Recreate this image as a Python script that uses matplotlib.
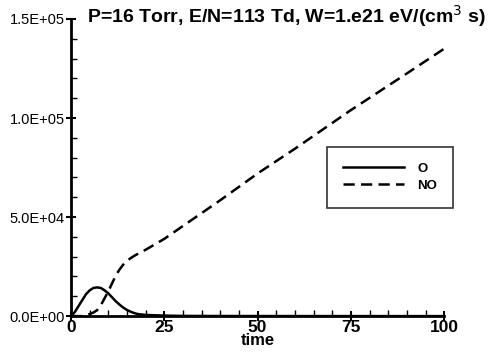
import numpy as np
import matplotlib
matplotlib.use("Agg")
import matplotlib.pyplot as plt
from matplotlib.ticker import MultipleLocator, FuncFormatter

# O density vs time
t_o = [0, 1, 2, 3, 4, 5, 6, 7, 8, 9, 10, 11, 12, 13, 14, 15, 16, 17, 18, 20, 25, 30, 40, 60, 100]
o_vals = [0, 2000, 5000, 8000, 11000, 13000, 14200, 14500, 14200, 13000, 11500, 9500,
          7500, 5800, 4300, 3100, 2200, 1500, 1000, 600, 250, 100, 50, 20, 0]

# NO density vs time
t_no = [0, 3, 4, 5, 6, 7, 8, 9, 10, 11, 12, 13, 14, 15, 17, 20, 25, 30, 35, 40, 50, 60, 75, 90, 100]
no_vals = [0, 0, 300, 1000, 1800, 3000, 5500, 9000, 12500, 16500, 20500, 23500, 26000,
           28000, 30500, 33500, 39000, 45500, 52000, 58500, 72000, 84500, 104000, 122500, 135000]

title = "P=16 Torr, E/N=113 Td, W=1.e21 eV/(cm$^3$ s)"

plt.rcParams['font.family'] = ['Liberation Sans', 'DejaVu Sans']

fig = plt.figure(figsize=(4.93, 3.58), dpi=100)
ax = fig.add_axes([0.144, 0.117, 0.757, 0.83])

ax.plot(t_o, o_vals, color='black', lw=1.8, label='O')
ax.plot(t_no, no_vals, color='black', lw=1.8, ls=(0, (4.5, 2.5)), label='NO')

ax.set_xlim(0, 100)
ax.set_ylim(0, 1.5e5)
ax.xaxis.set_major_locator(MultipleLocator(25))
ax.xaxis.set_minor_locator(MultipleLocator(5))
ax.yaxis.set_major_locator(MultipleLocator(5e4))
ax.yaxis.set_minor_locator(MultipleLocator(1e4))
ax.yaxis.set_major_formatter(FuncFormatter(lambda v, p: "%.1E" % v))

for s in ['top', 'right']:
    ax.spines[s].set_visible(False)
for s in ['left', 'bottom']:
    ax.spines[s].set_linewidth(2)

ax.tick_params(axis='both', which='major', direction='inout', length=7, width=1.5)
ax.tick_params(axis='both', which='minor', direction='in', length=4, width=1)
ax.tick_params(axis='y', labelsize=10.5, pad=1)
ax.tick_params(axis='x', labelsize=12.5, pad=-1)
for lbl in ax.get_xticklabels():
    lbl.set_fontweight('bold')

ax.set_xlabel('time', fontsize=12, fontweight='bold', labelpad=-1)

leg = ax.legend(loc='upper left', bbox_to_anchor=(0.687, 0.569), frameon=True, fancybox=False,
                edgecolor='black', handlelength=4.6, handletextpad=1.0, borderpad=1.2,
                labelspacing=0.35, prop={'weight': 'bold', 'size': 9.5}, borderaxespad=0)
leg.get_frame().set_linewidth(1.2)

fig.text(0.582, 0.955, title, ha='center', va='center', fontsize=14, fontweight='bold')

fig.savefig('out.png', dpi=100)
